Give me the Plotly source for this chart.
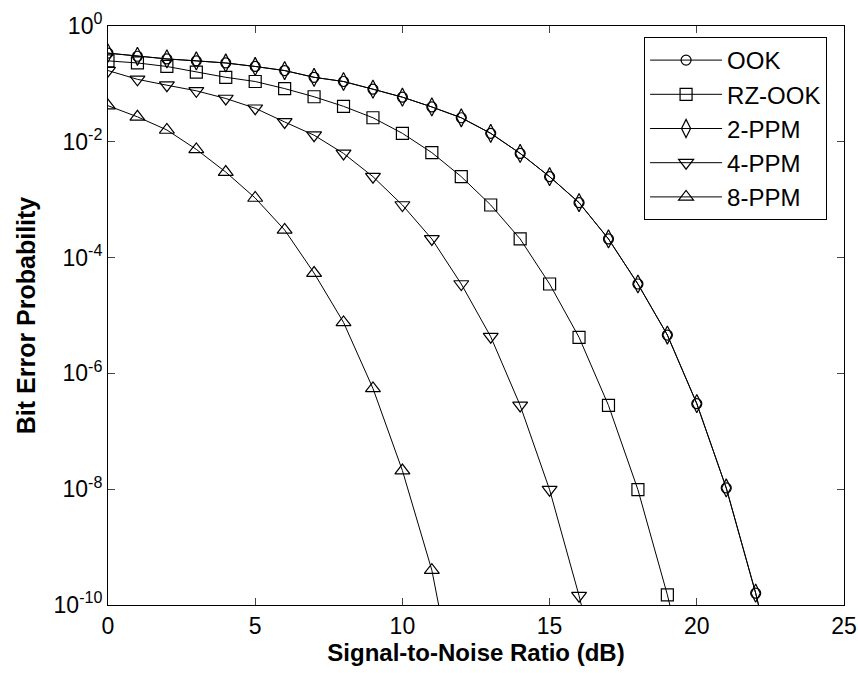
import plotly.graph_objects as go

snr_ook = list(range(0, 24))
ber_ook = [0.34, 0.30, 0.27, 0.25, 0.23, 0.20, 0.17, 0.13, 0.11, 8.1e-2, 5.9e-2,
           4.0e-2, 2.6e-2, 1.4e-2, 6.3e-3, 2.5e-3, 8.9e-4, 2.1e-4, 3.5e-5, 4.6e-6,
           3.0e-7, 1.05e-8, 1.6e-10, 1.2e-12]

snr_rz = list(range(0, 21))
ber_rz = [0.25, 0.23, 0.20, 0.16, 0.13, 0.11, 8.3e-2, 6.0e-2, 4.1e-2, 2.6e-2, 1.4e-2,
          6.5e-3, 2.5e-3, 8.1e-4, 2.1e-4, 3.5e-5, 4.2e-6, 2.8e-7, 9.8e-9, 1.5e-10, 1.2e-12]

snr_2ppm = list(range(0, 24))
ber_2ppm = [0.34, 0.30, 0.27, 0.25, 0.23, 0.20, 0.17, 0.13, 0.11, 8.1e-2, 5.9e-2,
            4.0e-2, 2.6e-2, 1.4e-2, 6.3e-3, 2.5e-3, 8.9e-4, 2.1e-4, 3.5e-5, 4.6e-6,
            3.0e-7, 1.05e-8, 1.6e-10, 1.2e-12]

snr_4ppm = list(range(0, 18))
ber_4ppm = [0.17, 0.12, 9.5e-2, 7.6e-2, 5.6e-2, 3.8e-2, 2.2e-2, 1.3e-2, 6.3e-3, 2.5e-3,
            8.1e-4, 2.1e-4, 3.5e-5, 4.3e-6, 2.8e-7, 9.8e-9, 1.45e-10, 1.2e-12]

snr_8ppm = list(range(0, 13))
ber_8ppm = [4.2e-2, 2.7e-2, 1.6e-2, 7.4e-3, 3.0e-3, 1.07e-3, 3.0e-4, 5.4e-5, 7.6e-6,
            5.5e-7, 2.1e-8, 4.0e-10, 1.0e-12]

names = ["OOK", "RZ-OOK", "2-PPM", "4-PPM", "8-PPM"]
symbols = ["circle-open", "square-open", "diamond-tall-open", "triangle-down-open", "triangle-up-open"]
sizes = [10, 12, 13, 13, 13]

xtick_vals = [0, 5, 10, 15, 20, 25]
ytick_vals = [1, 1e-2, 1e-4, 1e-6, 1e-8, 1e-10]
ytick_text = ["10<sup>0</sup>", "10<sup>-2</sup>", "10<sup>-4</sup>", "10<sup>-6</sup>",
              "10<sup>-8</sup>", "10<sup>-10</sup>"]

FONT = "Liberation Sans, Arial, sans-serif"

fig = go.Figure()
series = [(snr_ook, ber_ook), (snr_rz, ber_rz), (snr_2ppm, ber_2ppm),
          (snr_4ppm, ber_4ppm), (snr_8ppm, ber_8ppm)]
for (xs, ys), nm, sym, sz in zip(series, names, symbols, sizes):
    fig.add_trace(go.Scatter(
        x=xs, y=ys, name=nm, mode="lines+markers",
        line=dict(color="black", width=1),
        marker=dict(symbol=sym, size=sz, color="black",
                    line=dict(color="black", width=1.2)),
    ))

fig.update_layout(
    width=858, height=673,
    margin=dict(l=108, r=14, t=26, b=68),
    paper_bgcolor="white", plot_bgcolor="white",
    font=dict(family=FONT, size=22, color="black"),
    showlegend=True,
    legend=dict(
        x=0.977, y=0.981, xanchor="right", yanchor="top",
        bgcolor="white", bordercolor="black", borderwidth=1,
        font=dict(family=FONT, size=24, color="black"),
        tracegroupgap=0, itemwidth=72,
    ),
    xaxis=dict(
        range=[0, 25], tickvals=xtick_vals, ticks="inside", ticklen=7,
        showline=True, linecolor="black", linewidth=1, mirror="ticks",
        showgrid=False, zeroline=False, automargin=False,
        tickfont=dict(family=FONT, size=23),
        title=dict(text="<b>Signal-to-Noise Ratio (dB)</b>",
                   font=dict(family=FONT, size=24), standoff=4),
    ),
    yaxis=dict(
        type="log", range=[-10, 0], tickvals=ytick_vals, ticktext=ytick_text,
        ticks="inside", ticklen=7,
        showline=True, linecolor="black", linewidth=1, mirror="ticks",
        showgrid=False, zeroline=False, automargin=False,
        tickfont=dict(family=FONT, size=23),
        title=dict(text="<b>Bit Error Probability</b>",
                   font=dict(family=FONT, size=25), standoff=10),
    ),
)

fig.write_html("out.html", config={"displayModeBar": False},
               post_script="document.body.style.margin='0px';")
